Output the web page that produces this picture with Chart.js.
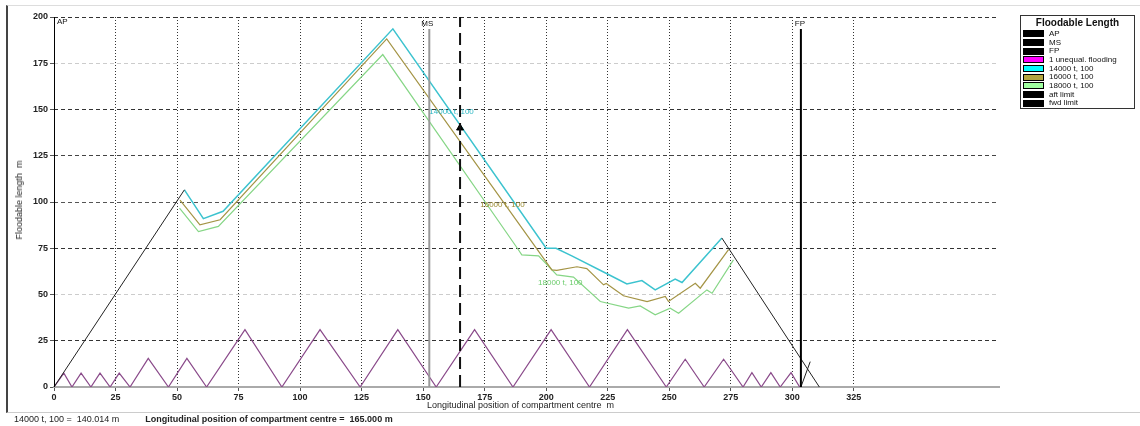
<!DOCTYPE html>
<html>
<head>
<meta charset="utf-8">
<script src="https://cdn.jsdelivr.net/npm/chart.js@4"></script>
<style>
body{margin:0;background:#fff;font-family:"Liberation Sans",Arial,sans-serif;}
#wrap{position:relative;width:1140px;height:426px;overflow:hidden;}
#c{position:absolute;left:0;top:0;}
#frame{position:absolute;left:6px;top:5px;width:1134px;height:406px;border-left:2px solid #444;border-top:1px solid #ddd;border-bottom:1px solid #ccc;}
#ytitle{position:absolute;left:19px;top:200px;transform:translate(-50%,-50%) rotate(-90deg);font-size:9px;white-space:nowrap;color:#222;}
#xtitle{position:absolute;left:427px;top:400px;font-size:9px;white-space:nowrap;color:#222;}
#status{position:absolute;left:14px;top:414px;font-size:9px;white-space:nowrap;color:#222;}
#status b{margin-left:26px;}
#legend{position:absolute;left:1020px;top:15px;width:113px;height:92px;border:1px solid #333;font-size:8px;color:#111;}
#legend .t{font-weight:bold;font-size:10px;text-align:center;margin:1px 0 2px 0;}
#legend .r{height:8.66px;line-height:8.66px;white-space:nowrap;padding-left:2px;}
#legend .s{display:inline-block;width:19px;height:5px;border:1px solid #000;vertical-align:middle;margin-right:5px;}
</style>
</head>
<body>
<div id="wrap">
<div id="frame"></div>
<canvas id="c" width="1140" height="426"></canvas>
<div id="ytitle">Floodable length&nbsp; m</div>
<div id="xtitle">Longitudinal position of compartment centre&nbsp; m</div>
<div id="status">14000 t, 100 = &nbsp;140.014 m<b>Longitudinal position of compartment centre = &nbsp;165.000 m</b></div>
<div id="legend"></div>
</div>
<script>
// floodable length curves, [x m, length m]
const curve14000 = [[53,106.6],[60.7,91],[68.7,95],[137.7,193.6],[200,75],[204,75],[210.4,70.9],[224.7,61.2],[232.8,55.7],[238.9,57.5],[244.3,52.5],[252.4,58.3],[255.2,56.5],[271.4,80.5]];
const curve16000 = [[51.2,101],[59.3,87.7],[67.5,90.4],[135.2,188.2],[202.3,63.3],[204.3,63],[212.5,65],[216.5,64],[223.3,55.2],[224.4,56],[231.4,49.3],[241,46.2],[248.4,48.9],[249.7,46.2],[260.6,56.1],[262.6,53.4],[274.1,74.2]];
const curve18000 = [[51,96.7],[58.7,84],[66.8,86.8],[133.6,179.7],[188.7,74.2],[190.1,71.4],[196.9,70.9],[204.3,60.6],[211.1,59.4],[222,46.2],[233.5,42.6],[238.2,43.8],[244.3,39],[250.4,42.6],[253.8,39.9],[265.3,52.5],[267.4,50.7],[276.1,68.7]];
const unequalFlooding = [[0,0],[4,7.5],[7.3,0],[11,7.5],[15,0],[18.7,7.5],[22.8,0],[26.5,7.5],[30.9,0],[38.3,15.5],[46.5,0],[54,15.5],[62,0],[77.6,31],[92.6,0],[108.1,31],[124.4,0],[139.7,31],[155.3,0],[170.9,31],[186.5,0],[202,31],[217.6,0],[233,31],[248.8,0],[256.5,15],[264.2,0],[272.1,15],[280,0],[283.6,7.8],[287.4,0],[291.3,7.8],[295.1,0],[299.5,7.8],[303,0]];
const aftLimit = [[0,0],[53,106.6]];
const fwdLimit = [[271.4,80.5],[311,0],[306,null],[303.5,0],[307.3,13.7]];
const apLine = [[0,0],[0,200]];
const msLine = [[152.5,0],[152.5,193.5]];
const fpLine = [[303.5,0],[303.5,193.5]];
const centreLine = [[165,0],[165,200]];
const centrePoint = [[165,140.014]];

const xTicks = [0,25,50,75,100,125,150,175,200,225,250,275,300,325];
const yGrid = {25:'#333',50:'#ccc',75:'#333',100:'#555',125:'#444',150:'#333',175:'#ccc',200:'#333'};

const curveLabels = [
	{text:'14000 t, 100', x:152.5, y:148.5, color:'#2fb8c4'},
	{text:'16000 t, 100', x:173.2, y:98.5, color:'#9a8a30'},
	{text:'18000 t, 100', x:196.7, y:56.3, color:'#6ccc6c'}
];
const lineLabels = [
	{text:'AP', x:0, y:200, align:'left', dx:3, dy:5},
	{text:'MS', x:152.5, y:193.5, align:'center', dx:-2, dy:-5},
	{text:'FP', x:303.5, y:193.5, align:'center', dx:-1, dy:-5}
];

const legendItems = [
	['AP','#000'],['MS','#000'],['FP','#000'],['1 unequal. flooding','#ff00ff'],
	['14000 t, 100','#00ffff'],['16000 t, 100','#b4a640'],['18000 t, 100','#a0ffa0'],
	['aft limit','#000'],['fwd limit','#000']
];

const pts = a => a.map(p => ({x:p[0], y:p[1]}));
const line = (label, data, color, width, extra) => Object.assign({label, data:pts(data), borderColor:color, backgroundColor:color, borderWidth:width, showLine:true, pointRadius:0, fill:false}, extra||{});

const textPlugin = {
	id:'texts',
	afterDatasetsDraw(chart){
		const {ctx, scales:{x, y}} = chart;
		ctx.save();
		ctx.textBaseline = 'middle';
		ctx.font = '8px "Liberation Sans", Arial, sans-serif';
		curveLabels.forEach(l => {
			ctx.fillStyle = l.color;
			ctx.textAlign = 'left';
			ctx.fillText(l.text, x.getPixelForValue(l.x), y.getPixelForValue(l.y));
		});
		ctx.fillStyle = '#111';
		lineLabels.forEach(l => {
			ctx.textAlign = l.align;
			ctx.fillText(l.text, x.getPixelForValue(l.x) + l.dx, y.getPixelForValue(l.y) + l.dy);
		});
		ctx.restore();
	}
};

new Chart(document.getElementById('c'), {
	type:'scatter',
	data:{datasets:[
		line('AP', apLine, '#000', 2),
		line('MS', msLine, '#999', 2),
		line('FP', fpLine, '#000', 2),
		line('centre', centreLine, '#111', 2, {borderDash:[12,6]}),
		line('arrow', centrePoint, '#000', 1, {showLine:false, pointRadius:4, pointStyle:'triangle'}),
		line('aft limit', aftLimit, '#222', 1),
		line('fwd limit', fwdLimit, '#222', 1),
		line('14000 t, 100', curve14000, '#3cc3cf', 1.5),
		line('16000 t, 100', curve16000, '#a49445', 1.2),
		line('18000 t, 100', curve18000, '#86d686', 1.2),
		line('1 unequal. flooding', unequalFlooding, '#8a4a8a', 1.2)
	]},
	options:{
		responsive:false,
		animation:false,
		layout:{padding:{left:0, right:141, top:17, bottom:19}},
		plugins:{legend:{display:false}, tooltip:{enabled:false}},
		scales:{
			x:{
				type:'linear', min:0, max:384,
				afterFit(s){ s.height = 20; },
				afterBuildTicks(s){ s.ticks = xTicks.map(v => ({value:v})); },
				ticks:{autoSkip:false, maxRotation:0, padding:1, color:'#222', font:{size:9, weight:'bold'}},
				grid:{
					color: c => (c.tick && c.tick.value > 0) ? '#333' : 'rgba(0,0,0,0)',
					tickColor:'#555', tickLength:4, lineWidth:1
				},
				border:{display:true, color:'#aaa', width:2, dash:[1,2]}
			},
			y:{
				min:0, max:200,
				afterFit(s){ s.width = 54; },
				ticks:{stepSize:25, padding:2, color:'#222', font:{size:9, weight:'bold'}},
				grid:{
					color: c => (c.tick && yGrid[c.tick.value]) || 'rgba(0,0,0,0)',
					tickColor:'#555', tickLength:4, lineWidth:1
				},
				border:{display:false, dash:[4,3]}
			}
		}
	},
	plugins:[textPlugin]
});

document.getElementById('legend').innerHTML = '<div class="t">Floodable Length</div>' +
	legendItems.map(it => '<div class="r"><span class="s" style="background:' + it[1] + '"></span>' + it[0] + '</div>').join('');
</script>
</body>
</html>
